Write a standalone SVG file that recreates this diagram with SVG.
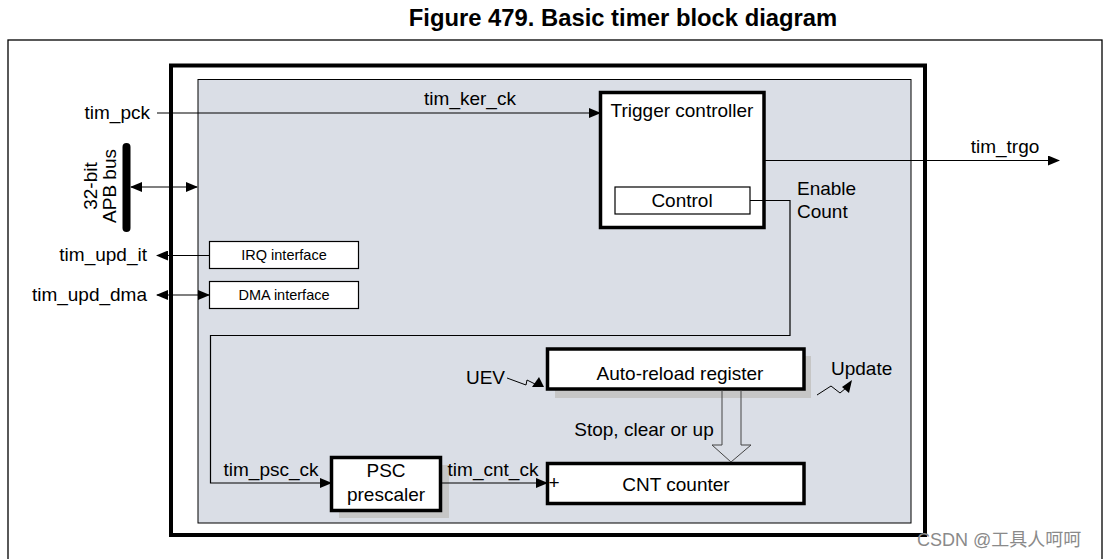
<svg xmlns="http://www.w3.org/2000/svg" width="1104" height="559" viewBox="0 0 1104 559">
<style>
text{font-family:"Liberation Sans",Arial,sans-serif;fill:#000}
.t{font-size:19px}
.s{font-size:14.5px}
.c{text-anchor:middle}
.e{text-anchor:end}
.thick{fill:#fff;stroke:#000;stroke-width:3.5}
.thin{fill:#fff;stroke:#000;stroke-width:1.2}
.w{fill:none;stroke:#000;stroke-width:1.2}
.shadow{fill:#c6c6c6}
</style>
<defs>
<marker id="ah" markerWidth="12" markerHeight="10" refX="11" refY="5" orient="auto-start-reverse" markerUnits="userSpaceOnUse">
<path d="M0,0 L12,5 L0,10 z" fill="#000"/>
</marker>
</defs>
<rect width="1104" height="559" fill="#fff"/>
<text x="623" y="26" class="c" style="font-size:23.8px;font-weight:bold">Figure 479. Basic timer block diagram</text>
<rect x="8" y="40" width="1094" height="540" fill="none" stroke="#000" stroke-width="1.3"/>
<g id="timer-block">
<rect x="171" y="65.5" width="754" height="469.5" fill="#fff" stroke="#000" stroke-width="4"/>
<rect x="198" y="79.5" width="713" height="443.5" fill="#dadee6" stroke="#000" stroke-width="1"/>
</g>
<g id="apb-bus">
<line x1="126.5" y1="147" x2="126.5" y2="228" stroke="#000" stroke-width="8" stroke-linecap="round"/>
<text transform="translate(97,186) rotate(-90)" class="t c">32-bit</text>
<text transform="translate(116,186) rotate(-90)" class="t c">APB bus</text>
</g>
<g id="trigger-controller">
<rect x="600.5" y="92.5" width="163.5" height="135" class="thick"/>
<text x="682" y="117" class="t c">Trigger controller</text>
</g>
<g id="control">
<rect x="615" y="187" width="135" height="27" class="thin"/>
<text x="682" y="206.5" class="t c">Control</text>
</g>
<g id="irq-interface">
<rect x="209.5" y="241.5" width="149" height="27" class="thin"/>
<text x="284" y="259.5" class="s c">IRQ interface</text>
</g>
<g id="dma-interface">
<rect x="209.5" y="281.5" width="149" height="27" class="thin"/>
<text x="284" y="299.5" class="s c">DMA interface</text>
</g>
<g id="auto-reload-register">
<rect x="555" y="356" width="256" height="42" class="shadow"/>
<rect x="547.5" y="349" width="256.5" height="40" class="thick"/>
<text x="680" y="379.5" class="t c">Auto-reload register</text>
</g>
<g id="psc-prescaler">
<rect x="339" y="465" width="110" height="53" class="shadow"/>
<rect x="331.5" y="457.5" width="109" height="53" class="thick"/>
<text x="386" y="476.5" class="t c">PSC</text>
<text x="386" y="500.5" class="t c">prescaler</text>
</g>
<g id="cnt-counter">
<rect x="547.5" y="463.5" width="256.5" height="40" class="thick"/>
<text x="676" y="490.5" class="t c">CNT counter</text>
<text x="554" y="489" class="t c">+</text>
</g>
<g id="connectors">
<line x1="157" y1="113" x2="600" y2="113" class="w" marker-end="url(#ah)"/>
<line x1="764" y1="160.5" x2="1059" y2="160.5" class="w" marker-end="url(#ah)"/>
<line x1="131" y1="187" x2="197" y2="187" class="w" marker-start="url(#ah)" marker-end="url(#ah)"/>
<line x1="209" y1="255.5" x2="157" y2="255.5" class="w" marker-end="url(#ah)"/>
<line x1="157" y1="295" x2="209" y2="295" class="w" marker-start="url(#ah)" marker-end="url(#ah)"/>
<polyline points="750,200.5 790,200.5 790,335.5 210.5,335.5 210.5,483 331,483" class="w" marker-end="url(#ah)"/>
<line x1="441" y1="483" x2="547" y2="483" class="w" marker-end="url(#ah)"/>
<path d="M722,390 V445 H712 L731,462 L751,445 H741 V390" fill="none" stroke="#444" stroke-width="1"/>
<polyline points="507,378 526,385 527,380 535,384" fill="none" stroke="#000" stroke-width="1"/>
<polygon points="532,387 544,387 539,377" fill="#000"/>
<polyline points="817,395 831,386 840,393 846,388" fill="none" stroke="#000" stroke-width="1"/>
<polygon points="842,387 849,393 852,380" fill="#000"/>
</g>
<g id="labels">
<text x="150" y="119" class="t e">tim_pck</text>
<text x="470" y="105" class="t c">tim_ker_ck</text>
<text x="1005" y="153" class="t c">tim_trgo</text>
<text x="797" y="194.5" class="t">Enable</text>
<text x="797" y="218" class="t">Count</text>
<text x="147" y="261" class="t e">tim_upd_it</text>
<text x="147" y="301" class="t e">tim_upd_dma</text>
<text x="505" y="384" class="t e">UEV</text>
<text x="831" y="375" class="t">Update</text>
<text x="644" y="436" class="t c">Stop, clear or up</text>
<text x="271" y="476" class="t c">tim_psc_ck</text>
<text x="493" y="476" class="t c">tim_cnt_ck</text>
</g>
<text x="917" y="546" style="font-size:18px;fill:#8a8a8a;font-family:'Liberation Sans','Noto Sans CJK SC',sans-serif">CSDN @工具人呵呵</text>
</svg>
